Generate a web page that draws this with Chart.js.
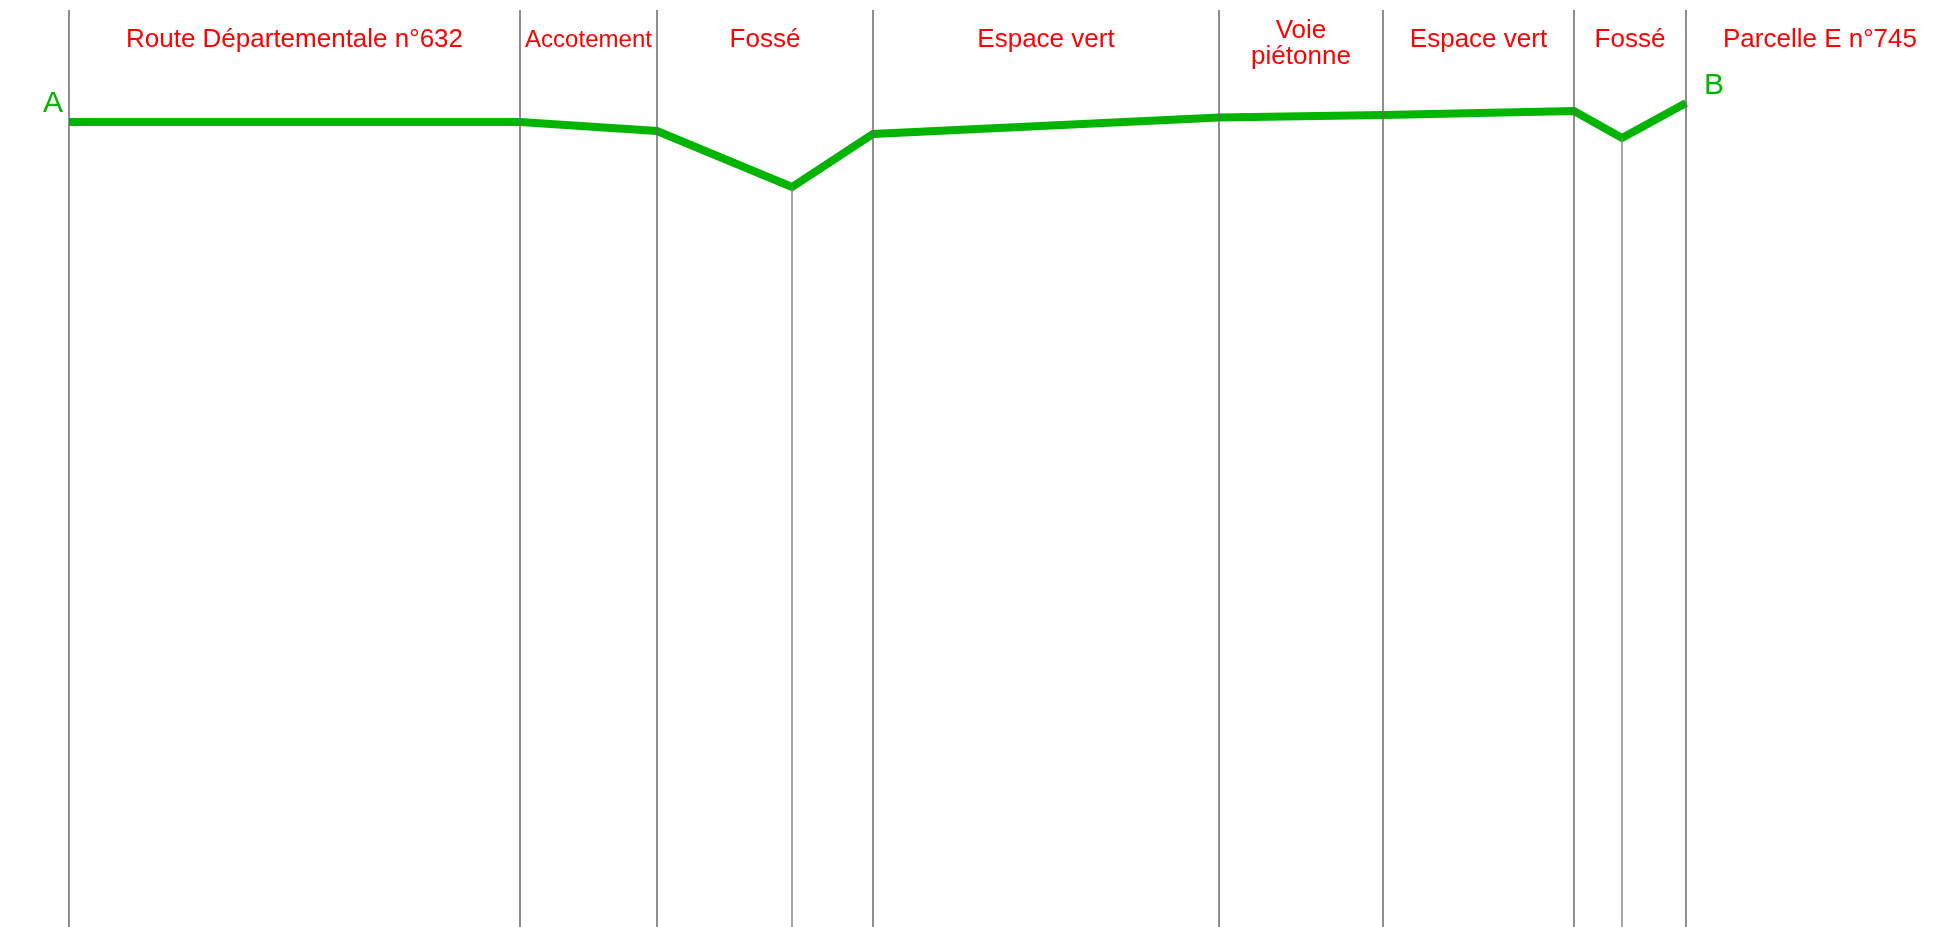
<!DOCTYPE html>
<html>
<head>
<meta charset="utf-8">
<script src="https://cdn.jsdelivr.net/npm/chart.js@4"></script>
<style>
  body { margin: 0; background: #fff; }
  canvas { display: block; }
</style>
</head>
<body>
<canvas id="profil" width="1954" height="927"></canvas>
<script>
// distances along A-B (m) and relative levels (m)
const profileDist = [0, 4.51, 5.88, 7.23, 8.04, 11.50, 13.14, 15.05, 15.53, 16.17];
const profileElev = [0, 0, -0.09, -0.65, -0.12, 0.045, 0.07, 0.11, -0.16, 0.19];

// zone limits (full height lines) and ditch axes (lines from the ground down)
const zoneLimits = [0, 4.51, 5.88, 8.04, 11.50, 13.14, 15.05, 16.17];
const ditchAxes = [7.23, 15.53];
const zoneLabels = ["Route Départementale n°632", "Accotement", "Fossé", "Espace vert",
  ["Voie", "piétonne"], "Espace vert", "Fossé", "Parcelle E n°745"];

const xMin = -0.69, xMax = 18.85;
const yMin = -8.05, yMax = 1.22, lineTop = 1.12;

const green = "#00b400";
const ctxRef = document.getElementById("profil");

const elevAt = (d) => profileElev[profileDist.indexOf(d)];

const datasets = [];
zoneLimits.forEach((d) => {
  datasets.push({
    data: [{ x: d, y: lineTop }, { x: d, y: yMin }],
    borderColor: "#6a6a6a", borderWidth: 1.5, pointRadius: 0, showLine: true,
  });
});
ditchAxes.forEach((d) => {
  datasets.push({
    data: [{ x: d, y: elevAt(d) }, { x: d, y: yMin }],
    borderColor: "#8a8a8a", borderWidth: 1.5, pointRadius: 0, showLine: true,
  });
});
datasets.push({
  data: profileDist.map((d, i) => ({ x: d, y: profileElev[i] })),
  borderColor: green, borderWidth: 8, borderJoinStyle: "miter", pointRadius: 0, showLine: true,
});

const labelsPlugin = {
  id: "labels",
  afterDatasetsDraw(chart) {
    const { ctx, scales } = chart;
    const x = scales.x, y = scales.y;
    ctx.save();
    ctx.fillStyle = "#ff0000";
    ctx.textAlign = "center";
    ctx.textBaseline = "alphabetic";
    zoneLabels.forEach((lab, i) => {
      const left = x.getPixelForValue(zoneLimits[i]);
      const right = i + 1 < zoneLimits.length ? x.getPixelForValue(zoneLimits[i + 1]) : x.getPixelForValue(xMax);
      const cx = (left + right) / 2;
      const lines = Array.isArray(lab) ? lab : [lab];
      let size = 26;
      ctx.font = size + "px 'Liberation Sans', Arial, sans-serif";
      const w = Math.max(...lines.map((l) => ctx.measureText(l).width));
      if (w > right - left - 10) size = size * (right - left - 10) / w;
      ctx.font = size + "px 'Liberation Sans', Arial, sans-serif";
      if (lines.length === 1) {
        ctx.fillText(lines[0], cx, 47);
      } else {
        ctx.fillText(lines[0], cx, 38);
        ctx.fillText(lines[1], cx, 64);
      }
    });
    // end points A and B
    ctx.fillStyle = green;
    ctx.font = "30px 'Liberation Sans', Arial, sans-serif";
    const first = profileDist[0], last = profileDist[profileDist.length - 1];
    ctx.textAlign = "right";
    ctx.fillText("A", x.getPixelForValue(first) - 6, y.getPixelForValue(profileElev[0]) - 10);
    ctx.textAlign = "left";
    ctx.fillText("B", x.getPixelForValue(last) + 18, y.getPixelForValue(profileElev[profileElev.length - 1]) - 9);
    ctx.restore();
  },
};

const chart = new Chart(ctxRef, {
  type: "scatter",
  data: { datasets },
  options: {
    responsive: false,
    animation: false,
    devicePixelRatio: 1,
    layout: { padding: 0 },
    plugins: { legend: { display: false }, tooltip: { enabled: false } },
    elements: { line: { tension: 0, borderCapStyle: "butt" } },
    scales: {
      x: { type: "linear", min: xMin, max: xMax, display: false },
      y: { type: "linear", min: yMin, max: yMax, display: false },
    },
  },
  plugins: [labelsPlugin],
});
</script>
</body>
</html>
